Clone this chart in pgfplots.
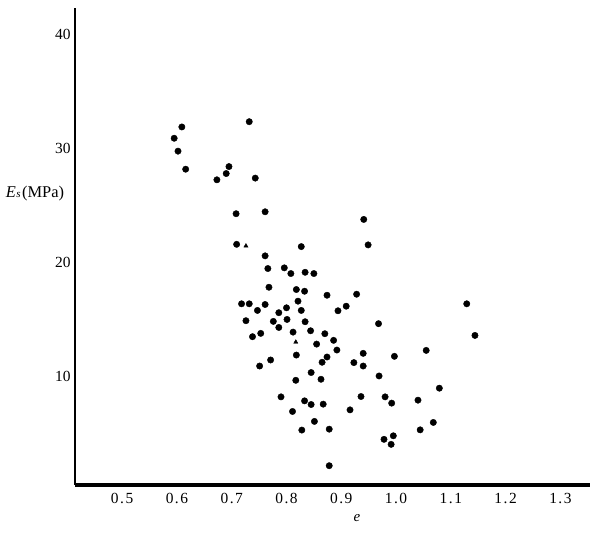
\documentclass[border=0pt]{standalone}
\usepackage{fontspec}
\setmainfont{Liberation Serif}
\usepackage{pgfplots}
\pgfplotsset{compat=1.18}
\begin{document}
\begin{tikzpicture}[x=1bp,y=1bp]
\useasboundingbox (0,0) rectangle (613,536);
\begin{axis}[
  at={(75bp,51bp)}, anchor=south west,
  scale only axis, width=515bp, height=477bp,
  xmin=0.414, xmax=1.354, ymin=0.52, ymax=42.3,
  axis lines*=left,
  x axis line style={line width=3.6bp},
  y axis line style={line width=2.8bp},
  major tick length=0pt,
  xtick={0.5,0.6,0.7,0.8,0.9,1.0,1.1,1.2,1.3},
  xticklabels={0\kern1.5pt.\kern1.5pt5,0\kern1.5pt.\kern1.5pt6,0\kern1.5pt.\kern1.5pt7,0\kern1.5pt.\kern1.5pt8,0\kern1.5pt.\kern1.5pt9,1\kern1.5pt.\kern1.5pt0,1\kern1.5pt.\kern1.5pt1,1\kern1.5pt.\kern1.5pt2,1\kern1.5pt.\kern1.5pt3},
  ytick={10,20,30,40},
  yticklabels={10,20,30,40},
  tick label style={font=\fontsize{15.5}{17}\selectfont},
  xticklabel style={yshift=-5bp},
  yticklabel style={xshift=-1bp},
  xlabel={\textit{e}},
  xlabel style={at={(axis description cs:0.5476,-0.07)}, anchor=center, font=\fontsize{15}{17}\selectfont},
  ylabel={\textit{E}\kern0.5pt{\fontsize{11}{12}\selectfont\textit{s}}\kern1.5pt(MPa)},
  ylabel style={rotate=-90, at={(axis description cs:-0.0777,0.612)}, anchor=center, font=\fontsize{16.5}{18}\selectfont},
  clip=false,
]
\addplot[only marks, mark=*, mark size=3.2bp, black] coordinates {
(0.609,31.88) (0.595,30.89) (0.602,29.76) (0.616,28.18) (0.673,27.25)
(0.690,27.80) (0.695,28.41) (0.732,32.34) (0.743,27.40) (0.708,24.28)
(0.761,24.45) (0.709,21.60) (0.827,21.40) (0.761,20.59) (0.766,19.48)
(0.796,19.54) (0.808,19.04) (0.834,19.15) (0.850,19.04) (0.768,17.84)
(0.818,17.64) (0.833,17.49) (0.874,17.14) (0.928,17.23) (0.718,16.39)
(0.732,16.39) (0.761,16.33) (0.747,15.81) (0.786,15.61) (0.800,16.04)
(0.821,16.62) (0.827,15.81) (0.909,16.18) (0.894,15.78) (0.726,14.91)
(0.776,14.85) (0.801,15.02) (0.834,14.82) (0.968,14.65) (0.786,14.32)
(0.753,13.80) (0.738,13.51) (0.812,13.91) (0.844,14.03) (0.870,13.77)
(0.886,13.19) (0.855,12.86) (0.892,12.34) (0.818,11.90) (0.940,12.05)
(0.997,11.79) (0.874,11.73) (0.865,11.27) (0.771,11.47) (0.751,10.94)
(0.923,11.24) (0.940,10.94) (0.845,10.37) (0.817,9.69) (0.863,9.78)
(0.969,10.07) (0.790,8.24) (0.833,7.89) (0.845,7.57) (0.867,7.60)
(0.811,6.96) (0.916,7.10) (0.936,8.27) (0.980,8.24) (0.992,7.69)
(0.851,6.09) (0.828,5.33) (0.878,5.41) (0.978,4.52) (0.995,4.83)
(0.991,4.08) (0.941,23.78) (0.949,21.55) (1.129,16.39) (1.144,13.62)
(1.055,12.31) (1.079,9.00) (1.040,7.95) (1.068,6.00) (1.044,5.35)
(0.878,2.21)
};
\addplot[only marks, mark=triangle*, mark size=2.4bp, black] coordinates {
(0.726,21.46) (0.817,13.04)
};
\end{axis}
\end{tikzpicture}
\end{document}
